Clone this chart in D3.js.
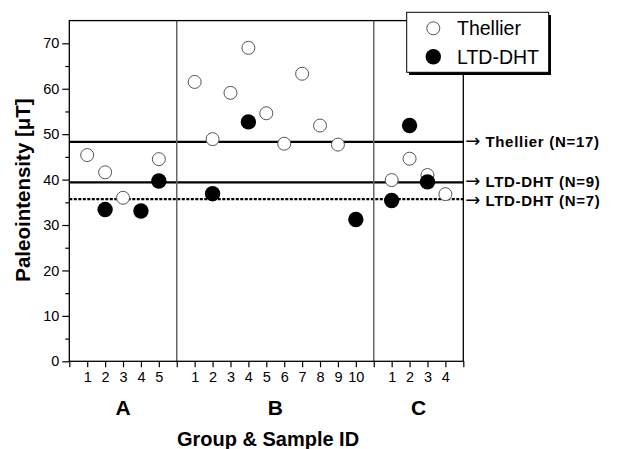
<!DOCTYPE html>
<html><head><meta charset="utf-8">
<script src="https://cdn.jsdelivr.net/npm/d3@7"></script>
<style>body{margin:0;background:#fff}svg{display:block;font-family:Arial,"Liberation Sans",sans-serif}</style>
</head><body><svg id="c" width="618" height="449"></svg>
<script>
// Data
const groups = ["A", "B", "C"];
const groupSizes = [5, 10, 4];
const thellierX = ["A1","A2","A3","A5","B1","B2","B3","B4","B5","B6","B7","B8","B9","C1","C2","C3","C4"];
const thellierY = [45.4, 41.6, 36.0, 44.5, 61.5, 48.9, 59.1, 69.0, 54.6, 47.9, 63.3, 51.9, 47.7, 39.9, 44.6, 41.0, 36.8];
const ltdX = ["A2","A4","A5","B2","B4","B10","C1","C2","C3"];
const ltdY = [33.4, 33.1, 39.7, 36.9, 52.7, 31.2, 35.4, 51.9, 39.5];
const meanLabels = ["Thellier (N=17)", "LTD-DHT (N=9)", "LTD-DHT (N=7)"];
const meanValues = [48.3, 39.4, 35.7];
const meanDashed = [false, false, true];
const yTicks = [0, 10, 20, 30, 40, 50, 60, 70];
const yMinorTicks = [5, 15, 25, 35, 45, 55, 65];

// Build positions: each group takes its size + 1 slot, separator after it
const posOf = {};
const sepPos = [];
const groupCenters = [];
const tickLabels = [];
let p = 0;
groups.forEach((g, gi) => {
  const start = p;
  for (let i = 1; i <= groupSizes[gi]; i++) { posOf[g + i] = p + i; tickLabels.push({pos: p + i, label: String(i)}); }
  p += groupSizes[gi] + 1;
  groupCenters.push({g, pos: (start + p) / 2});
  if (gi < groups.length - 1) sepPos.push(p);
});
const xMax = p; // 22

const L = 69.3, R = 463.3, T = 20.6, B = 361.3;
const x = d3.scaleLinear().domain([0, xMax]).range([L, R]);
const y = d3.scaleLinear().domain([0, 75]).range([B, T]);
const svg = d3.select("#c");

// mean lines
const labelNudge = [0, -1.2, 1.2];
meanValues.forEach((v, i) => {
  svg.append("line").attr("x1", L).attr("x2", R).attr("y1", y(v)).attr("y2", y(v))
    .attr("stroke", "#000").attr("stroke-width", 2.2)
    .attr("stroke-dasharray", meanDashed[i] ? "3,1.5" : null);
  const t = svg.append("text").attr("x", R + 2).attr("y", y(v) + labelNudge[i]).attr("dy", "0.36em")
    .attr("font-size", 15).attr("font-weight", "bold");
  t.append("tspan").attr("font-family", "'DejaVu Sans',sans-serif").attr("font-weight", "normal")
    .attr("font-size", 18).text("\u2192");
  t.append("tspan").attr("dx", 5).attr("letter-spacing", 0.7).text(meanLabels[i]);
});

// separators
sepPos.forEach(s => {
  svg.append("line").attr("x1", x(s)).attr("x2", x(s)).attr("y1", T).attr("y2", B)
    .attr("stroke", "#666").attr("stroke-width", 1.5);
});

// frame
svg.append("rect").attr("x", L).attr("y", T).attr("width", R - L).attr("height", B - T)
  .attr("fill", "none").attr("stroke", "#000").attr("stroke-width", 1.3);

// y axis
const yAxis = d3.axisLeft(y).tickValues(yTicks).tickSize(7).tickPadding(3);
const ga = svg.append("g").attr("transform", `translate(${L},0)`).call(yAxis);
ga.select(".domain").remove();
ga.selectAll("text").attr("font-size", 14.5).attr("font-family", "Arial,'Liberation Sans',sans-serif");
ga.selectAll("line").attr("stroke-width", 1.2);
const yMinor = d3.axisLeft(y).tickValues(yMinorTicks).tickSize(4).tickFormat("");
const gm = svg.append("g").attr("transform", `translate(${L},0)`).call(yMinor);
gm.select(".domain").remove();
gm.selectAll("line").attr("stroke-width", 1.2);

// x axis
const xAxis = d3.axisBottom(x).tickValues(d3.range(0, xMax + 1)).tickSize(6)
  .tickFormat(d => { const t = tickLabels.find(o => o.pos === d); return t ? t.label : ""; }).tickPadding(4);
const gx = svg.append("g").attr("transform", `translate(0,${B})`).call(xAxis);
gx.select(".domain").remove();
gx.selectAll("text").attr("font-size", 14.5).attr("font-family", "Arial,'Liberation Sans',sans-serif");
gx.selectAll("line").attr("stroke-width", 1.2);

// group letters
svg.selectAll("text.grp").data(groupCenters).enter().append("text").attr("class", "grp")
  .attr("x", d => x(d.pos)).attr("y", 415).attr("text-anchor", "middle")
  .attr("font-size", 21).attr("font-weight", "bold").text(d => d.g);

// axis titles
svg.append("text").attr("x", 268).attr("y", 446).attr("text-anchor", "middle")
  .attr("font-size", 20).attr("font-weight", "bold").text("Group & Sample ID");
svg.append("text").attr("transform", "translate(30,190) rotate(-90)").attr("text-anchor", "middle")
  .attr("font-size", 20.5).attr("font-weight", "bold").text("Paleointensity [\u03bcT]");

// points
svg.selectAll("circle.th").data(thellierX).enter().append("circle").attr("class", "th")
  .attr("cx", d => x(posOf[d])).attr("cy", (d, i) => y(thellierY[i])).attr("r", 6.5)
  .attr("fill", "#fff").attr("stroke", "#555").attr("stroke-width", 1);
svg.selectAll("circle.ltd").data(ltdX).enter().append("circle").attr("class", "ltd")
  .attr("cx", d => x(posOf[d])).attr("cy", (d, i) => y(ltdY[i])).attr("r", 7.7)
  .attr("fill", "#000");

// legend
const lg = svg.append("g");
lg.append("rect").attr("x", 409).attr("y", 15).attr("width", 142).attr("height", 60).attr("fill", "#000");
lg.append("rect").attr("x", 406.7).attr("y", 12.3).attr("width", 142).attr("height", 60)
  .attr("fill", "#fff").attr("stroke", "#000").attr("stroke-width", 1);
lg.append("circle").attr("cx", 433.3).attr("cy", 28.3).attr("r", 6.5).attr("fill", "#fff").attr("stroke", "#555");
lg.append("circle").attr("cx", 433.3).attr("cy", 56.7).attr("r", 7.7).attr("fill", "#000");
lg.append("text").attr("x", 457).attr("y", 28.3).attr("dy", "0.36em").attr("font-size", 19.5).text("Thellier");
lg.append("text").attr("x", 457).attr("y", 56.7).attr("dy", "0.36em").attr("font-size", 19.5).text("LTD-DHT");
</script></body></html>
